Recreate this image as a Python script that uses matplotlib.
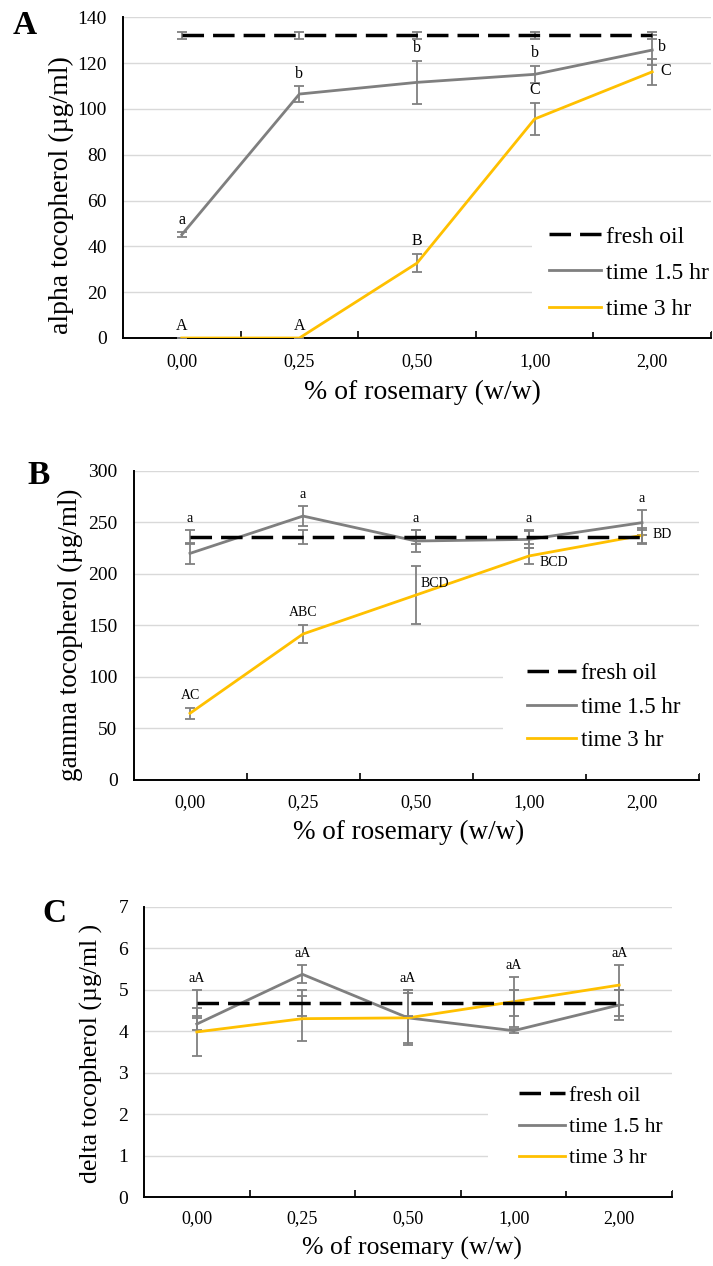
import numpy as np
import matplotlib
matplotlib.use("Agg")
import matplotlib.pyplot as plt
from matplotlib.patches import Rectangle

plt.rcParams["font.family"] = ["Liberation Serif", "DejaVu Serif"]

# ---- data -------------------------------------------------------------
rosemary_levels = ["0,00", "0,25", "0,50", "1,00", "2,00"]
series_labels = ["fresh oil", "time 1.5 hr", "time 3 hr"]

# alpha tocopherol (µg/ml): mean and SD
alpha_fresh = [132.2, 132.2, 132.2, 132.2, 132.2]
alpha_fresh_sd = [1.5, 1.5, 1.5, 1.5, 1.5]
alpha_t15 = [45.1, 106.5, 111.6, 115.1, 125.7]
alpha_t15_sd = [1.0, 3.5, 9.5, 3.8, 6.5]
alpha_t3 = [0.0, 0.0, 32.7, 95.6, 116.2]
alpha_t3_sd = [0.0, 0.0, 4.0, 7.0, 5.7]
alpha_t15_letters = ["a", "b", "b", "b", "b"]
alpha_t3_letters = ["A", "A", "B", "C", "C"]

# gamma tocopherol (µg/ml)
gamma_fresh = [235.7, 235.7, 235.7, 235.7, 235.7]
gamma_fresh_sd = [6.5, 6.5, 6.5, 6.5, 6.5]
gamma_t15 = [219.8, 256.0, 231.8, 233.4, 249.6]
gamma_t15_sd = [10.5, 9.7, 11.0, 8.5, 12.0]
gamma_t3 = [64.7, 141.6, 179.4, 217.3, 237.3]
gamma_t3_sd = [5.5, 8.6, 28.0, 8.0, 7.0]
gamma_t15_letters = ["a", "a", "a", "a", "a"]
gamma_t3_letters = ["AC", "ABC", "BCD", "BCD", "BD"]

# delta tocopherol (µg/ml)
delta_fresh = [4.67, 4.67, 4.67, 4.67, 4.67]
delta_fresh_sd = [0.31, 0.31, 0.31, 0.31, 0.31]
delta_t15 = [4.17, 5.37, 4.32, 4.01, 4.63]
delta_t15_sd = [0.15, 0.22, 0.60, 0.05, 0.35]
delta_t3 = [3.98, 4.30, 4.32, 4.71, 5.11]
delta_t3_sd = [0.58, 0.55, 0.66, 0.60, 0.49]
delta_letters = ["aA", "aA", "aA", "aA", "aA"]

# ---- style ------------------------------------------------------------
GREY = "#7f7f7f"
GOLD = "#ffc000"
GRID = "#d9d9d9"
ERR = "#808080"
PX = 72.0 / 100.0  # points per pixel at 100 dpi

W, H = 713, 1266
fig = plt.figure(figsize=(W / 100, H / 100), dpi=100)


def axes_px(left, right, top, bottom):
    return fig.add_axes([left / W, 1 - bottom / H, (right - left) / W, (bottom - top) / H])


def draw_panel(ax, fresh, fresh_sd, t15, t15_sd, t3, t3_sd, ylim, ystep,
               ylabel, ylabel_pos, xlabel_pos, fs):
    x = np.arange(len(rosemary_levels))
    ekw = dict(ecolor=ERR, elinewidth=1.3, capsize=3.6, capthick=1.3)
    c15 = ax.errorbar(x, t15, yerr=t15_sd, color=GREY, lw=2.0, zorder=3, **ekw)
    c3 = ax.errorbar(x, t3, yerr=t3_sd, color=GOLD, lw=2.0, zorder=3.2, **ekw)
    cf = ax.errorbar(x, fresh, yerr=fresh_sd, color="black", lw=2.5,
                     dashes=(6.2, 2.6), zorder=3.4, **ekw)

    ax.set_xlim(-0.5, len(x) - 0.5)
    ax.set_ylim(*ylim)
    ax.set_yticks(np.arange(ylim[0], ylim[1] + ystep / 2, ystep))
    ax.set_xticks(x)
    ax.set_xticklabels(rosemary_levels)
    ax.set_xticks(np.arange(0.5, len(x), 1.0), minor=True)
    ax.tick_params(axis="x", which="major", length=0, labelsize=fs["xt"], pad=fs["xpad"])
    ax.tick_params(axis="x", which="minor", direction="in", length=5, width=1.2,
                   color="black")
    ax.tick_params(axis="y", length=0, labelsize=fs["yt"], pad=11.5)

    ax.set_axisbelow(True)
    ax.yaxis.grid(True, color=GRID, lw=1.0)
    for s in ("top", "right"):
        ax.spines[s].set_visible(False)
    for s in ("left", "bottom"):
        ax.spines[s].set_linewidth(1.4)
        ax.spines[s].set_color("black")

    ax.set_ylabel(ylabel, fontsize=fs["lab"], va="center")
    ax.yaxis.set_label_coords(*ylabel_pos)
    ax.set_xlabel("% of rosemary (w/w)", fontsize=fs["lab"], va="center")
    ax.xaxis.set_label_coords(*xlabel_pos)
    # the plain data lines serve as legend keys
    return cf[0], c15[0], c3[0]


def add_legend(ax, handles, rect, anchor, fontsize, handlelength, labelspacing):
    ax.add_patch(Rectangle((rect[0], rect[1]), rect[2] - rect[0], rect[3] - rect[1],
                           transform=ax.transAxes, facecolor="white",
                           edgecolor="none", zorder=1))
    lg = ax.legend(handles, series_labels, loc="center left", bbox_to_anchor=anchor,
                   frameon=False, fontsize=fontsize, borderpad=0,
                   handlelength=handlelength, handletextpad=0.2,
                   labelspacing=labelspacing, borderaxespad=0)
    lg.set_zorder(5)


def above(ax, i, y, text, size, off):
    ax.annotate(text, (i, y), xytext=(0, off), textcoords="offset points",
                ha="center", va="center", fontsize=size, zorder=6)


def beside(ax, i, y, text, size, dx_px, dy_px):
    ax.annotate(text, (i, y), xytext=(dx_px * PX, dy_px * PX),
                textcoords="offset points", ha="left", va="center",
                fontsize=size, zorder=6)


def top_of(vals, sds):
    return [v + s for v, s in zip(vals, sds)]


# ---- panel A -----------------------------------------------------------
axA = axes_px(123, 711, 17.3, 338)
hA = draw_panel(axA, alpha_fresh, alpha_fresh_sd, alpha_t15, alpha_t15_sd,
                alpha_t3, alpha_t3_sd, (0, 140), 20,
                "alpha tocopherol (µg/ml)", (-0.105, 0.446), (0.51, -0.17),
                dict(xt=13, yt=14, lab=20, xpad=11))
add_legend(axA, hA, (0.6956, 0.02, 1.0, 0.40), (0.7245, 0.2027), 17, 2.2, 0.62)
tA15 = top_of(alpha_t15, alpha_t15_sd)
tA3 = top_of(alpha_t3, alpha_t3_sd)
for i in range(4):
    above(axA, i, tA15[i], alpha_t15_letters[i], 11.5, 9)
    above(axA, i, tA3[i], alpha_t3_letters[i], 11.5, 9)
beside(axA, 4, alpha_t15[4], alpha_t15_letters[4], 11.5, 5.5, 3.4)
beside(axA, 4, alpha_t3[4], alpha_t3_letters[4], 11.5, 8.5, 1.0)

# ---- panel B -----------------------------------------------------------
axB = axes_px(133.5, 698.5, 470.7, 780)
hB = draw_panel(axB, gamma_fresh, gamma_fresh_sd, gamma_t15, gamma_t15_sd,
                gamma_t3, gamma_t3_sd, (0, 300), 50,
                "gamma tocopherol (µg/ml)", (-0.111, 0.469), (0.487, -0.171),
                dict(xt=13, yt=14, lab=19.5, xpad=10))
add_legend(axB, hB, (0.654, 0.02, 1.0, 0.453), (0.6965, 0.236), 16.5, 2.15, 0.55)
tBmax = [max(a, b, c) for a, b, c in zip(top_of(gamma_fresh, gamma_fresh_sd),
                                         top_of(gamma_t15, gamma_t15_sd),
                                         top_of(gamma_t3, gamma_t3_sd))]
tB3 = top_of(gamma_t3, gamma_t3_sd)
for i in range(5):
    above(axB, i, tBmax[i], gamma_t15_letters[i], 10, 8.3)
for i in range(2):
    above(axB, i, tB3[i], gamma_t3_letters[i], 10, 8.8)
beside(axB, 2, gamma_t3[2], gamma_t3_letters[2], 10, 5, 11.7)
beside(axB, 3, gamma_t3[3], gamma_t3_letters[3], 10, 11, -6.7)
beside(axB, 4, gamma_t3[4], gamma_t3_letters[4], 10, 11, 1.3)

# ---- panel C -----------------------------------------------------------
axC = axes_px(144, 672, 906.7, 1197)
hC = draw_panel(axC, delta_fresh, delta_fresh_sd, delta_t15, delta_t15_sd,
                delta_t3, delta_t3_sd, (0, 7), 1,
                "delta tocopherol (µg/ml )", (-0.100, 0.496), (0.508, -0.176),
                dict(xt=13, yt=14, lab=18.5, xpad=9.5))
add_legend(axC, hC, (0.6515, 0.02, 1.0, 0.41), (0.710, 0.241), 15.5, 2.15, 0.52)
tCmax = [max(a, b, c) for a, b, c in zip(top_of(delta_fresh, delta_fresh_sd),
                                         top_of(delta_t15, delta_t15_sd),
                                         top_of(delta_t3, delta_t3_sd))]
for i in range(5):
    above(axC, i, tCmax[i], delta_letters[i], 10, 8.3)

# ---- panel letters -----------------------------------------------------
for letter, (px, py) in zip("ABC", [(25, 25.8), (38.7, 475.8), (54.6, 913)]):
    fig.text(px / W, 1 - py / H, letter, fontsize=24, fontweight="bold",
             ha="center", va="center")

fig.savefig("out.png", dpi=100)
